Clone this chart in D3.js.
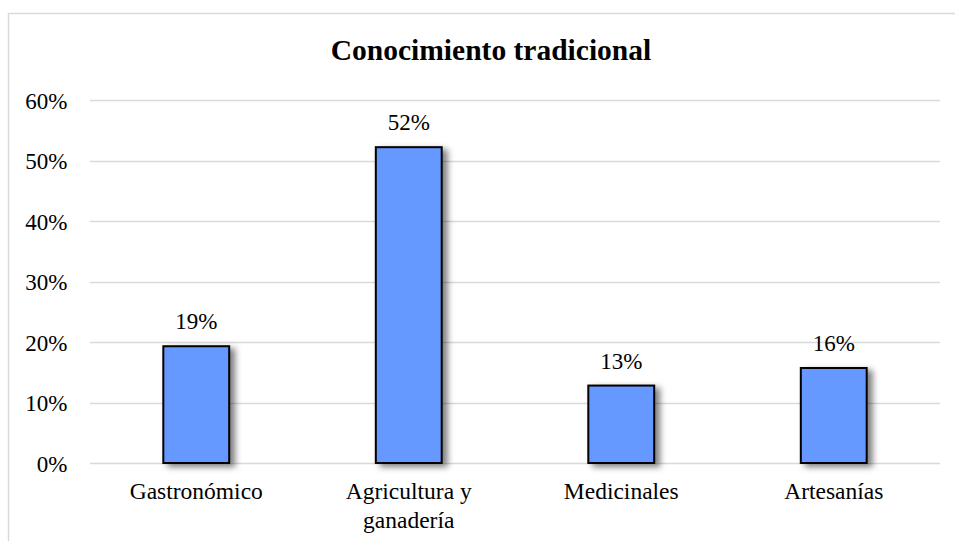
<!DOCTYPE html>
<html>
<head>
<meta charset="utf-8">
<script src="https://cdn.jsdelivr.net/npm/d3@7"></script>
<style>
  html, body { margin: 0; padding: 0; background: #fff; }
  svg { display: block; }
  text { font-family: "Liberation Serif", "Times New Roman", serif; fill: #000; }
</style>
</head>
<body>
<svg id="chart" width="955" height="541"></svg>
<script>
const title = "Conocimiento tradicional";
const categories = ["Gastronómico", "Agricultura y\nganadería", "Medicinales", "Artesanías"];
const values = [0.193, 0.522, 0.128, 0.157];
const valueLabels = ["19%", "52%", "13%", "16%"];
const yTicks = [0, 0.1, 0.2, 0.3, 0.4, 0.5, 0.6];

(function () {
const svg = d3.select("#chart");
const plotL = 90, plotR = 940, plotT = 100, plotB = 463;

// outer chart border
svg.append("rect")
  .attr("x", 8.5).attr("y", 13.5)
  .attr("width", 960).attr("height", 540)
  .attr("fill", "#fff").attr("stroke", "#d9d9d9").attr("stroke-width", 1.5);

const defs = svg.append("defs");
const f = defs.append("filter").attr("id", "shadow")
  .attr("x", "-20%").attr("y", "-20%").attr("width", "150%").attr("height", "150%");
f.append("feDropShadow").attr("dx", 5).attr("dy", 3).attr("stdDeviation", 3)
  .attr("flood-color", "#000").attr("flood-opacity", 0.5);

const x = d3.scaleBand().domain(categories).range([plotL, plotR]).padding(0);
const y = d3.scaleLinear().domain([0, 0.6]).range([plotB, plotT]);

// gridlines
svg.append("g").selectAll("line").data(yTicks).join("line")
  .attr("x1", plotL).attr("x2", plotR)
  .attr("y1", d => Math.round(y(d)) + 0.5).attr("y2", d => Math.round(y(d)) + 0.5)
  .attr("stroke", "#d9d9d9").attr("stroke-width", 1.5);

// y axis labels
const yAxis = d3.axisLeft(y).tickValues(yTicks).tickFormat(d3.format(".0%")).tickSize(0).tickPadding(0);
const ya = svg.append("g").attr("transform", "translate(67.5,0)").call(yAxis);
ya.select(".domain").remove();
ya.selectAll("text").attr("font-size", 23).attr("font-family", "Liberation Serif").attr("fill", "#000").attr("dy", "0.35em");

// bars
const bw = x.bandwidth() * 0.31;
svg.append("g").selectAll("rect").data(categories).join("rect")
  .attr("x", d => x(d) + x.bandwidth() / 2 - bw / 2)
  .attr("y", (d, i) => y(values[i]))
  .attr("width", bw)
  .attr("height", (d, i) => y(0) - y(values[i]))
  .attr("fill", "#6699ff")
  .attr("stroke", "#000").attr("stroke-width", 2)
  .attr("filter", "url(#shadow)");

// value labels
svg.append("g").selectAll("text").data(categories).join("text")
  .attr("x", d => x(d) + x.bandwidth() / 2)
  .attr("y", (d, i) => y(values[i]) - 17)
  .attr("text-anchor", "middle")
  .attr("font-size", 23)
  .text((d, i) => valueLabels[i]);

// category labels
const cg = svg.append("g").selectAll("text").data(categories).join("text")
  .attr("x", d => x(d) + x.bandwidth() / 2)
  .attr("y", 499)
  .attr("text-anchor", "middle")
  .attr("font-size", 23.5);
cg.each(function (d) {
  const t = d3.select(this);
  d.split("\n").forEach((line, i) => {
    t.append("tspan").attr("x", x(d) + x.bandwidth() / 2).attr("dy", i === 0 ? 0 : 29).text(line);
  });
});

// title
svg.append("text")
  .attr("x", 491).attr("y", 60)
  .attr("text-anchor", "middle")
  .attr("font-size", 29.5).attr("font-weight", "bold")
  .text(title);
})();
</script>
</body>
</html>
